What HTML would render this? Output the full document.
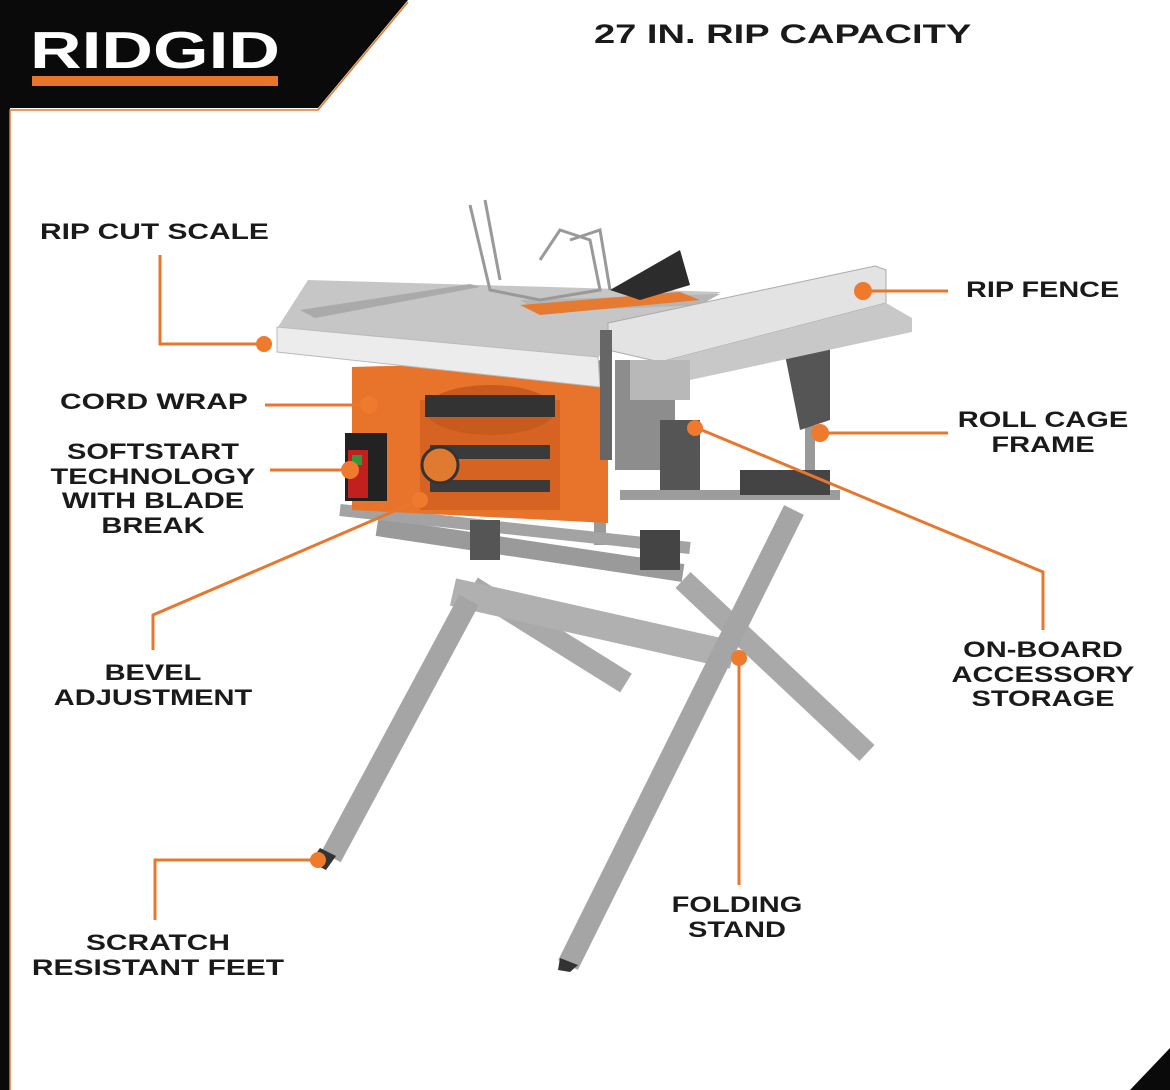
<!DOCTYPE html>
<html><head><meta charset="utf-8"><style>
html,body{margin:0;padding:0;background:#fff}
body{width:1170px;height:1090px;position:relative;overflow:hidden;font-family:"Liberation Sans",Arial,sans-serif}
svg{position:absolute;left:0;top:0}
.t{position:absolute;font-weight:bold;font-size:22px;color:#1a1a1a;text-align:center;line-height:24.5px;white-space:nowrap;transform:scaleX(1.32);transform-origin:50% 0}
.l{transform-origin:0 0;text-align:left}
</style></head><body>
<svg width="1170" height="1090" viewBox="0 0 1170 1090">
<rect width="1170" height="1090" fill="#fff"/>
<polygon points="0,0 408,0 318,108 10,108 10,1090 0,1090" fill="#0a0a0a"/>
<polyline points="10,1090 10,110 318,110 408,2" fill="none" stroke="#e07a2e" stroke-width="1.5"/>
<polygon points="1170,1048 1170,1090 1130,1090" fill="#0a0a0a"/>
<rect x="32" y="76" width="246" height="10" fill="#e8752a"/>
<text x="30" y="68" font-family="Liberation Sans" font-weight="bold" font-size="52" fill="#fff" textLength="250" lengthAdjust="spacingAndGlyphs">RIDGID</text>

<g stroke-linecap="butt">
<line x1="472" y1="587" x2="626" y2="683" stroke="#a9a9a9" stroke-width="22"/>
<line x1="683" y1="580" x2="867" y2="753" stroke="#a9a9a9" stroke-width="22"/>
<line x1="377" y1="527" x2="683" y2="573" stroke="#9a9a9a" stroke-width="18"/>
<line x1="453" y1="592" x2="733" y2="655" stroke="#b0b0b0" stroke-width="28"/>
<line x1="469" y1="600" x2="331" y2="857" stroke="#a5a5a5" stroke-width="22"/>
<line x1="794" y1="510" x2="568" y2="965" stroke="#a5a5a5" stroke-width="22"/>
<line x1="600" y1="395" x2="600" y2="545" stroke="#9a9a9a" stroke-width="12"/>
<line x1="810" y1="380" x2="810" y2="500" stroke="#9a9a9a" stroke-width="10"/>
<line x1="340" y1="510" x2="690" y2="548" stroke="#a3a3a3" stroke-width="12"/>
<line x1="620" y1="495" x2="840" y2="495" stroke="#9c9c9c" stroke-width="10"/>
</g>
<polygon points="320,848 336,856 326,870 310,862" fill="#333"/>
<polygon points="560,958 578,965 570,972 558,970" fill="#333"/>
<rect x="740" y="470" width="90" height="25" fill="#444"/>
<rect x="470" y="520" width="30" height="40" fill="#555"/>
<rect x="640" y="530" width="40" height="40" fill="#444"/>

<polygon points="352,367 608,360 608,523 352,510" fill="#e8732a"/>
<rect x="420" y="400" width="140" height="110" fill="#d76322"/>
<ellipse cx="490" cy="410" rx="65" ry="25" fill="#c95a1e"/>
<rect x="425" y="395" width="130" height="22" fill="#333"/>
<rect x="430" y="445" width="120" height="14" fill="#3a3a3a"/>
<rect x="430" y="480" width="120" height="12" fill="#3a3a3a"/>
<circle cx="440" cy="465" r="18" fill="#e07a30" stroke="#333" stroke-width="3"/>
<rect x="345" y="433" width="42" height="68" fill="#222"/>
<rect x="348" y="450" width="20" height="48" fill="#c21f1f"/>
<rect x="352" y="455" width="10" height="10" fill="#2a9a3a"/>
<rect x="615" y="360" width="60" height="110" fill="#8d8d8d"/>
<path d="M780 330 Q800 320 830 340 L830 420 L800 430 Z" fill="#555"/>
<rect x="660" y="420" width="40" height="70" fill="#555"/>

<polygon points="278,327 308,280 721,292 598,357" fill="#c6c6c6"/>
<polygon points="300,310 470,284 480,287 315,318" fill="#aaa"/>
<polygon points="520,300 720,294 700,305 540,312" fill="#b5b5b5"/>
<polygon points="277,327 598,357 600,387 277,352" fill="#ececec" stroke="#bbb" stroke-width="1"/>
<polygon points="520,305 680,292 700,300 540,315" fill="#e57a30"/>
<g fill="none" stroke="#999" stroke-width="3">
<path d="M470 205 L490 290 L540 300 L600 290 L590 240 L560 230 L540 260"/>
<path d="M485 200 L500 280"/>
<path d="M570 240 L600 230 L610 290"/>
</g>
<polygon points="610,290 680,250 690,285 640,300" fill="#2c2c2c"/>
<polygon points="608,323 875,266 886,270 886,303 660,362 608,350" fill="#e3e3e3" stroke="#aaa" stroke-width="1"/>
<polygon points="660,362 886,303 912,318 912,332 690,380 660,380" fill="#c8c8c8"/>
<rect x="630" y="360" width="60" height="40" fill="#b8b8b8"/>
<rect x="600" y="330" width="12" height="130" fill="#666"/>

<g stroke="#e8772e" stroke-width="3" fill="none">
<polyline points="160,255 160,344 262,344"/>
<line x1="865" y1="291" x2="948" y2="291"/>
<line x1="265" y1="405" x2="366" y2="405"/>
<line x1="270" y1="470" x2="346" y2="470"/>
<line x1="822" y1="433" x2="948" y2="433"/>
<polyline points="697,428 1043,572 1043,630"/>
<polyline points="153,650 153,615 420,500"/>
<line x1="739" y1="658" x2="739" y2="885"/>
<polyline points="155,920 155,860 318,860"/>
</g>
<g fill="#ef7a2e">
<circle cx="264" cy="344" r="8"/><circle cx="863" cy="291" r="9"/><circle cx="369" cy="405" r="9"/>
<circle cx="350" cy="470" r="9"/><circle cx="820" cy="433" r="9"/><circle cx="695" cy="428" r="8"/>
<circle cx="420" cy="500" r="8"/><circle cx="739" cy="658" r="8"/><circle cx="318" cy="860" r="8"/>
</g>
</svg>
<div class="t l" style="left:594px;top:22px;font-size:27px;transform:scaleX(1.41)">27 IN. RIP CAPACITY</div>
<div class="t l" style="left:40px;top:220px;transform:scaleX(1.36)">RIP CUT SCALE</div>
<div class="t l" style="left:966px;top:278px;transform:scaleX(1.31)">RIP FENCE</div>
<div class="t l" style="left:60px;top:390px;transform:scaleX(1.36)">CORD WRAP</div>
<div class="t" style="left:48px;top:440px;width:210px">SOFTSTART<br>TECHNOLOGY<br>WITH BLADE<br>BREAK</div>
<div class="t" style="left:943px;top:408px;width:200px">ROLL CAGE<br>FRAME</div>
<div class="t" style="left:943px;top:638px;width:200px">ON-BOARD<br>ACCESSORY<br>STORAGE</div>
<div class="t" style="left:43px;top:661px;width:220px">BEVEL<br>ADJUSTMENT</div>
<div class="t" style="left:637px;top:893px;width:200px">FOLDING<br>STAND</div>
<div class="t" style="left:28px;top:931px;width:260px;transform:scaleX(1.36)">SCRATCH<br>RESISTANT FEET</div>
</body></html>
